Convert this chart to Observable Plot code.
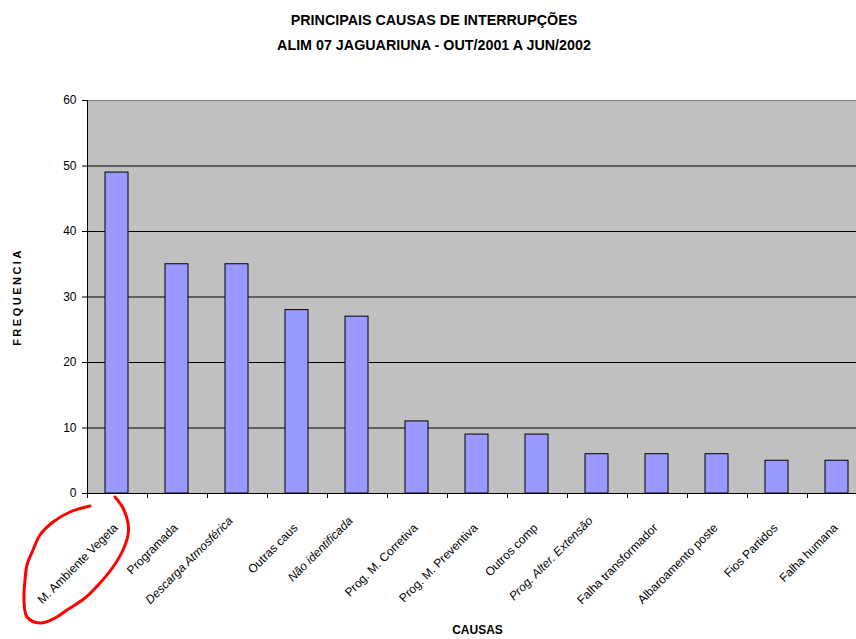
<!DOCTYPE html>
<html>
<head>
<meta charset="utf-8">
<script src="https://cdn.jsdelivr.net/npm/d3@7"></script>
<script src="https://cdn.jsdelivr.net/npm/@observablehq/plot@0.6"></script>
<style>
  html, body { margin: 0; padding: 0; background: white; overflow: hidden; }
  #wrap { position: relative; width: 856px; height: 639px; overflow: hidden; }
  #title { position: absolute; left: 0; top: 8px; width: 868px; text-align: center;
           font-family: "Liberation Sans", Arial, sans-serif;
           font-weight: bold; font-size: 14.3px; line-height: 25px; color: #000; }
  #chart { position: absolute; left: 0; top: 60px; width: 900px; }
  #chart svg { max-width: none !important; }
  #note { position: absolute; left: 0; top: 0; pointer-events: none; }
</style>
</head>
<body>
<div id="wrap">
  <div id="title">PRINCIPAIS CAUSAS DE INTERRUPÇÕES<br>ALIM 07 JAGUARIUNA - OUT/2001 A JUN/2002</div>
  <div id="chart"></div>
  <svg id="note" width="856" height="639"></svg>
</div>
<script>
const categories = [
  "M. Ambiente Vegeta", "Programada", "Descarga Atmosférica", "Outras caus",
  "Não identificada", "Prog. M. Corretiva", "Prog. M. Preventiva", "Outros comp",
  "Prog. Alter. Extensão", "Falha transformador", "Albaroamento poste",
  "Fios Partidos", "Falha humana"
];
const values = [49, 35, 35, 28, 27, 11, 9, 9, 6, 6, 6, 5, 5];
const yTicks = [0, 10, 20, 30, 40, 50, 60];
const yTitle = "FREQUENCIA";
const xTitle = "CAUSAS";

const data = categories.map((c, i) => ({cause: c, freq: values[i]}));
const italicSet = new Set(["Descarga Atmosférica", "Não identificada", "Prog. Alter. Extensão"]);
const normalLabels = categories.filter(c => !italicSet.has(c));
const italicLabels = categories.filter(c => italicSet.has(c));

const chart = Plot.plot({
  width: 880,
  height: 579,
  marginLeft: 87,
  marginRight: 13,
  marginTop: 40,
  marginBottom: 146,
  style: {fontFamily: "'Liberation Sans', Arial, sans-serif", fontSize: "12px", background: "transparent", overflow: "visible", color: "black", maxWidth: "none"},
  x: {domain: categories, padding: 0, label: null},
  y: {domain: [0, 60], label: null},
  marks: [
    Plot.frame({fill: "#c0c0c0", stroke: "#808080"}),
    Plot.gridY(yTicks.filter(t => t > 0 && t < 60), {stroke: "black", strokeOpacity: 1}),
    Plot.barY(data, {x: "cause", y: "freq", fill: "#9999ff", stroke: "black", strokeWidth: 1, insetLeft: 18, insetRight: 19}),
    Plot.ruleY([0], {stroke: "black"}),
    Plot.frame({anchor: "left", stroke: "black"}),
    Plot.axisY({ticks: yTicks, tickSize: 5, tickPadding: 6, label: null, fontSize: 12}),
    Plot.axisX({tickSize: 5, tickFormat: () => "", dx: -30, label: null}),
    Plot.text(normalLabels, {x: d => d, frameAnchor: "bottom", rotate: -45, textAnchor: "end", dx: 1, dy: 35, fontSize: 12}),
    Plot.text(italicLabels, {x: d => d, frameAnchor: "bottom", rotate: -45, textAnchor: "end", dx: -4, dy: 28, fontSize: 12, fontStyle: "italic"}),
    Plot.text([xTitle], {frameAnchor: "bottom", dy: 140, fontWeight: "bold", fontSize: 12}),
    Plot.text([yTitle], {frameAnchor: "left", textAnchor: "middle", dx: -70, rotate: -90, fontWeight: "bold", fontSize: 11})
  ]
});
document.getElementById("chart").appendChild(chart);
d3.select(chart).selectAll("text").filter(function() { return this.textContent === yTitle; })
  .style("letter-spacing", "2.5px");

// hand-drawn red annotation ring around the first label
const ring = [[90,506],[70,512],[53,522],[40,535],[33,550],[27,565],[25,580],[24,600],[27,617],[40,623],[55,618],[67,610],[85,598],[100,583],[113,567],[123,550],[128,535],[128,523],[123,508],[115,497]];
d3.select("#note").append("path")
  .attr("d", d3.line().curve(d3.curveCatmullRom)(ring))
  .attr("fill", "none").attr("stroke", "#ff0000").attr("stroke-width", 3)
  .attr("stroke-linecap", "round");
</script>
</body>
</html>
